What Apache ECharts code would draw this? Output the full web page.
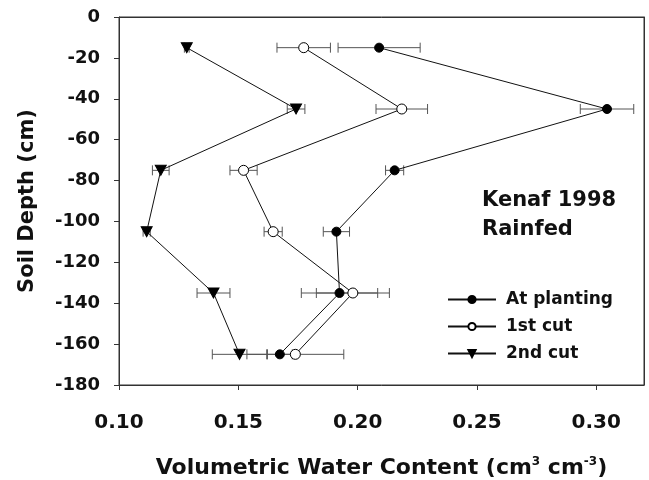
<!DOCTYPE html>
<html>
<head>
<meta charset="utf-8">
<script src="https://cdn.jsdelivr.net/npm/echarts@6/dist/echarts.min.js"></script>
<style>
html,body{margin:0;padding:0;background:#fff;}
#c{width:649px;height:480px;}
</style>
</head>
<body>
<div id="c"></div>
<script>
var depths = [-15, -45, -75, -105, -135, -165];
var seriesNames = ['At planting', '1st cut', '2nd cut'];
var plantingVals = [0.2090, 0.3045, 0.2155, 0.1911, 0.1924, 0.1674];
var plantingErr  = [0.0172, 0.0112, 0.0038, 0.0055, 0.0160, 0.0052];
var cut1Vals = [0.1774, 0.2185, 0.1522, 0.1646, 0.1980, 0.1739];
var cut1Err  = [0.0112, 0.0108, 0.0057, 0.0038, 0.0153, 0.0203];
var cut2Vals = [0.1284, 0.1742, 0.1175, 0.1116, 0.1396, 0.1505];
var cut2Err  = [0.0010, 0.0037, 0.0035, 0.0015, 0.0069, 0.0114];
var xTicks = [0.10, 0.15, 0.20, 0.25, 0.30];

var FONT = '"DejaVu Sans", "Liberation Sans", Arial, sans-serif';
var AXC = '#333';

function pts(vals) {
  return vals.map(function (v, i) { return [v, depths[i]]; });
}
function errData(vals, errs) {
  return vals.map(function (v, i) { return [v - errs[i], v + errs[i], depths[i]]; });
}
function renderErr(params, api) {
  var lo = api.coord([api.value(0), api.value(2)]);
  var hi = api.coord([api.value(1), api.value(2)]);
  var h = 5;
  var style = { stroke: '#555', lineWidth: 1 };
  return {
    type: 'group',
    children: [
      { type: 'line', shape: { x1: lo[0], y1: lo[1], x2: hi[0], y2: hi[1] }, style: style },
      { type: 'line', shape: { x1: lo[0], y1: lo[1] - h, x2: lo[0], y2: lo[1] + h }, style: style },
      { type: 'line', shape: { x1: hi[0], y1: hi[1] - h, x2: hi[0], y2: hi[1] + h }, style: style }
    ]
  };
}

var chart = echarts.init(document.getElementById('c'), null, { renderer: 'canvas' });
chart.setOption({
  animation: false,
  backgroundColor: '#fff',
  title: {
    text: 'Kenaf 1998\nRainfed',
    left: 477, top: 181,
    textStyle: { fontFamily: FONT, fontSize: 21, fontWeight: 'bold', color: '#111', lineHeight: 29 }
  },
  legend: {
    data: seriesNames,
    orient: 'vertical',
    left: 442, top: 286,
    itemWidth: 48, itemHeight: 9, itemGap: 10,
    textStyle: { fontFamily: FONT, fontSize: 17, fontWeight: 'bold', color: '#111', padding: [0, 0, 0, 5] }
  },
  grid: {
    left: 119, top: 17, right: 5, bottom: 95,
    containLabel: false, outerBoundsMode: 'none',
    show: true, borderColor: AXC, borderWidth: 1, backgroundColor: 'transparent', z: 2
  },
  xAxis: [{
    type: 'value', min: 0.10, max: 0.32, interval: 0.05,
    name: '{a|Volumetric Water Content (cm}{s|3}{a| cm}{s|-3}{a|)}',
    nameLocation: 'middle', nameGap: 71,
    nameTextStyle: {
      rich: {
        a: { fontFamily: FONT, fontSize: 22, fontWeight: 'bold', color: '#111' },
        s: { fontFamily: FONT, fontSize: 12, fontWeight: 'bold', color: '#111', padding: [0, 0, 12, 0] }
      }
    },
    axisLine: { show: true, onZero: false, lineStyle: { color: AXC, width: 1 } },
    axisTick: { show: true, inside: false, length: 5, lineStyle: { color: AXC } },
    axisLabel: {
      showMaxLabel: false, margin: 28,
      fontFamily: FONT, fontSize: 20, fontWeight: 'bold', color: '#111',
      formatter: function (v) {
        for (var i = 0; i < xTicks.length; i++) { if (Math.abs(v - xTicks[i]) < 1e-6) return xTicks[i].toFixed(2); }
        return '';
      }
    },
    splitLine: { show: false }
  }, {
    type: 'value', min: 0.10, max: 0.32, interval: 0.05, position: 'top',
    axisLine: { show: true, onZero: false, lineStyle: { color: AXC, width: 1 } },
    axisTick: { show: false }, axisLabel: { show: false }, splitLine: { show: false }
  }],
  yAxis: [{
    type: 'value', min: -180, max: 0, interval: 20,
    name: 'Soil Depth (cm)', nameLocation: 'middle', nameGap: 81, nameRotate: 90,
    nameTextStyle: { fontFamily: FONT, fontSize: 21, fontWeight: 'bold', color: '#111' },
    axisLine: { show: true, onZero: false, lineStyle: { color: AXC, width: 1 } },
    axisTick: { show: true, inside: false, length: 5, lineStyle: { color: AXC } },
    axisLabel: { margin: 19, fontFamily: FONT, fontSize: 18, fontWeight: 'bold', color: '#111' },
    splitLine: { show: false }
  }, {
    type: 'value', min: -180, max: 0, interval: 20, position: 'right',
    axisLine: { show: true, onZero: false, lineStyle: { color: AXC, width: 1 } },
    axisTick: { show: false }, axisLabel: { show: false }, splitLine: { show: false }
  }],
  series: [
    { type: 'custom', name: 'errP', xAxisIndex: 1, yAxisIndex: 1, data: errData(plantingVals, plantingErr), renderItem: renderErr, z: 1, silent: true, encode: { x: [0, 1], y: 2 } },
    { type: 'custom', name: 'err1', xAxisIndex: 1, yAxisIndex: 1, data: errData(cut1Vals, cut1Err), renderItem: renderErr, z: 1, silent: true, encode: { x: [0, 1], y: 2 } },
    { type: 'custom', name: 'err2', xAxisIndex: 1, yAxisIndex: 1, data: errData(cut2Vals, cut2Err), renderItem: renderErr, z: 1, silent: true, encode: { x: [0, 1], y: 2 } },
    {
      type: 'line', name: seriesNames[0], data: pts(plantingVals), z: 3,
      symbol: 'circle', symbolSize: 9,
      lineStyle: { color: '#111', width: 1 },
      itemStyle: { color: '#000', borderColor: '#000', borderWidth: 1 }
    },
    {
      type: 'line', name: seriesNames[1], data: pts(cut1Vals), z: 3,
      symbol: 'circle', symbolSize: 10,
      lineStyle: { color: '#111', width: 1 },
      itemStyle: { color: '#fff', borderColor: '#000', borderWidth: 1 }
    },
    {
      type: 'line', name: seriesNames[2], data: pts(cut2Vals), z: 3,
      symbol: 'triangle', symbolSize: [11, 10], symbolRotate: 180,
      lineStyle: { color: '#111', width: 1 },
      itemStyle: { color: '#000', borderColor: '#000', borderWidth: 1 }
    }
  ]
});
</script>
</body>
</html>
